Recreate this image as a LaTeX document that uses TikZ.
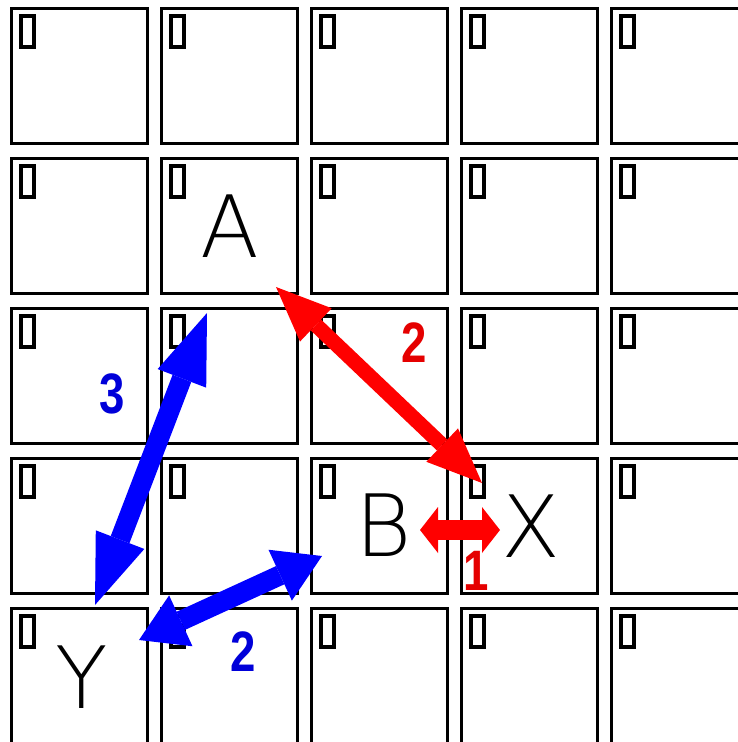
\documentclass[tikz,border=0pt]{standalone}
\usepackage{fontspec}
\setmainfont{Liberation Sans}
\IfFontExistsTF{DejaVu Sans ExtraLight}
    {\newfontfamily\letterfont{DejaVu Sans ExtraLight}}
    {\newfontfamily\letterfont{Latin Modern Sans}}
\newfontfamily\weightfont{Liberation Sans Bold}[FakeStretch=0.8]
\usetikzlibrary{arrows.meta}

\begin{document}
\begin{tikzpicture}[
    x=1pt, y=-1pt,
    cell/.style={
        rectangle,
        draw=black,
        line width=2.7pt,
        minimum width=136pt,
        minimum height=135.5pt,
        inner sep=0pt,
        outer sep=0pt
    },
    zeromark/.style={
        draw=black,
        line width=4pt
    },
    letter/.style={
        inner sep=0pt,
        font=\letterfont\fontsize{86}{86}\selectfont
    },
    weight/.style={
        inner sep=0pt,
        font=\weightfont\fontsize{57}{57}\selectfont
    },
    heads/.style 2 args={
        arrows={Triangle[length=#1,width=#2,line width=0pt]-Triangle[length=#1,width=#2,line width=0pt]}
    },
    redlink/.style={
        draw=red,
        line width=15pt
    },
    bluelink/.style={
        draw=blue,
        line width=20pt
    }
]
\useasboundingbox (0,0) rectangle (738,742);
\clip (0,0) rectangle (738,742);

% Grid
\foreach \i in {0,...,4} {
    \foreach \j in {0,...,4} {
        \node[cell] (c-\i-\j) at (79.5+150*\i, 76+150*\j) {};
        \draw[zeromark] ([shift={(9,7.7)}]c-\i-\j.north west) rectangle ++(13,31.5);
    }
}

% Letters
\node[letter] (A) at (230,226) {A};
\node[letter] (B) at (384,525) {B};
\node[letter] (X) at (531,526) {X};
\node[letter] (Y) at (82,677) {Y};

% Links
\draw[redlink, heads={55pt}{46pt}] ([shift={(46,61)}]A.center) -- ([shift={(-49,-43)}]X.center);
\draw[redlink, line width=20pt, heads={18pt}{46pt}] ([shift={(36,5)}]B.center) -- ([shift={(-31,4)}]X.center);
\draw[bluelink, heads={70pt}{52pt}] ([shift={(-23,87)}]A.center) -- ([shift={(13,-72)}]Y.center);
\draw[bluelink, heads={46pt}{56pt}] ([shift={(-62,31)}]B.center) -- ([shift={(57,-37)}]Y.center);

% Weights
\node[weight, text=red!90!black] (wax) at (414,343) {2};
\node[weight, text=red!90!black] (wbx) at (476,571) {1};
\node[weight, text=blue!85!black] (way) at (112,394) {3};
\node[weight, text=blue!85!black] (wby) at (243,652) {2};

\end{tikzpicture}
\end{document}
